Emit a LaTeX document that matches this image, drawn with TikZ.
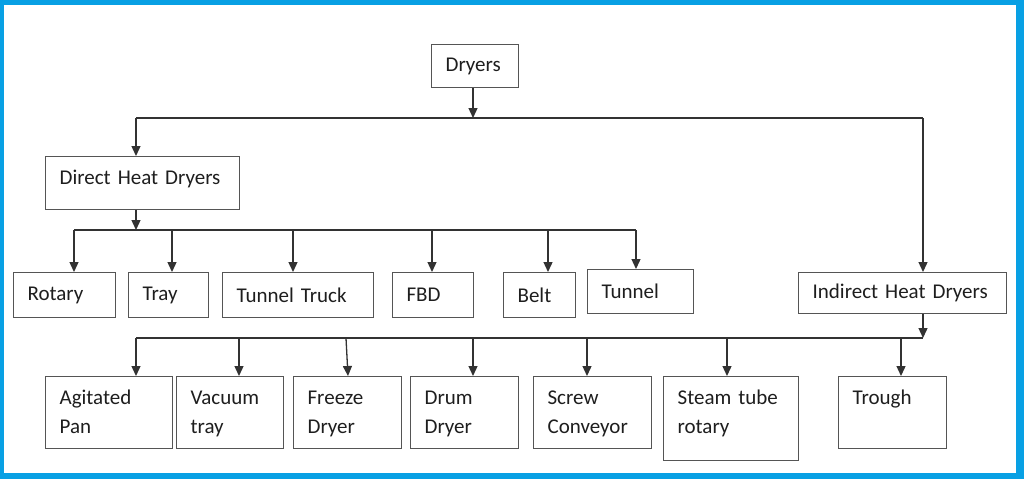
\documentclass[tikz,border=0pt]{standalone}
\usepackage{fontspec}
\setmainfont{Carlito}
\usetikzlibrary{arrows.meta}
\definecolor{frameblue}{RGB}{8,160,228}
\definecolor{ln}{RGB}{50,50,50}
\definecolor{bd}{RGB}{85,85,85}
\definecolor{tx}{RGB}{30,30,30}
\begin{document}
\begin{tikzpicture}[x=1pt,y=-1pt,
  box/.style={draw=bd,line width=1.2pt,anchor=north west,inner xsep=14pt,inner ysep=0pt,
    align=left,font=\fontsize{21}{29}\selectfont,text=tx},
  tall/.style={box,text height=15pt,text depth=31pt},
  arr/.style={draw=ln,line width=1.3pt,-{Triangle[width=9pt,length=10pt]}},
  ln/.style={draw=ln,line width=1.3pt}]
\useasboundingbox (0,0) rectangle (1024,479);
\fill[frameblue] (0,0) rectangle (1024,479);
\fill[white] (4,5) rectangle (1016,473);

% nodes
\node[box,minimum width=87,text width=59,minimum height=43] (dryers) at (431,44) {Dryers};
\node[box,minimum width=194,text width=166,minimum height=53,text height=15pt,text depth=12pt] (direct) at (45,156) {Direct Heat Dryers};
\node[box,minimum width=102,text width=74,minimum height=45] (rotary) at (13,272) {Rotary};
\node[box,minimum width=80,text width=52,minimum height=45] (tray) at (128,272) {Tray};
\node[box,minimum width=151,text width=123,minimum height=45] (ttruck) at (222,272) {Tunnel Truck};
\node[box,minimum width=81,text width=53,minimum height=45] (fbd) at (392,272) {FBD};
\node[box,minimum width=72,text width=44,minimum height=45] (belt) at (503,272) {Belt};
\node[box,minimum width=106,text width=78,minimum height=44] (tunnel) at (587,269) {Tunnel};
\node[box,minimum width=208,text width=180,minimum height=41] (indirect) at (798,272) {Indirect Heat Dryers};
\node[tall,minimum width=127,text width=99,minimum height=72] (agit) at (45,376) {Agitated\\Pan};
\node[tall,minimum width=107,text width=79,minimum height=72] (vac) at (176,376) {Vacuum\\tray};
\node[tall,minimum width=108,text width=80,minimum height=72] (freeze) at (293,376) {Freeze\\Dryer};
\node[tall,minimum width=108,text width=80,minimum height=72] (drum) at (410,376) {Drum\\Dryer};
\node[tall,minimum width=118,text width=90,minimum height=72] (screw) at (533,376) {Screw\\Conveyor};
\node[tall,minimum width=135,text width=107,minimum height=84,text depth=43pt] (steam) at (663,376) {Steam tube\\rotary};
\node[tall,minimum width=108,text width=80,minimum height=72] (trough) at (838,376) {Trough};

% junction coordinates
\coordinate (j1) at (473,118);
\coordinate (jL) at (136,118);
\coordinate (jR) at (923,118);
\coordinate (j2) at (136,230);
\coordinate (d1) at (74,230);
\coordinate (d2) at (172,230);
\coordinate (d3) at (293,230);
\coordinate (d4) at (432,230);
\coordinate (d5) at (548,230);
\coordinate (d6) at (636,230);
\coordinate (j3) at (923,338);
\coordinate (i1) at (136,338);
\coordinate (i2) at (239,338);
\coordinate (i3) at (346,338);
\coordinate (i3b) at (348,376);
\coordinate (i4) at (473,338);
\coordinate (i5) at (587,338);
\coordinate (i6) at (727,338);
\coordinate (i7) at (901,338);

% connectors
\draw[arr] (dryers.south -| j1) -- (j1);
\draw[ln] (jL) -- (jR);
\draw[arr] (jL) -- (jL |- direct.north);
\draw[arr] (jR) -- (jR |- indirect.north);

\draw[arr] (direct.south -| j2) -- (j2);
\draw[ln] (d1) -- (d6);
\draw[arr] (d1) -- (d1 |- rotary.north);
\draw[arr] (d2) -- (d2 |- tray.north);
\draw[arr] (d3) -- (d3 |- ttruck.north);
\draw[arr] (d4) -- (d4 |- fbd.north);
\draw[arr] (d5) -- (d5 |- belt.north);
\draw[arr] (d6) -- (d6 |- tunnel.north);

\draw[arr] (indirect.south -| j3) -- (j3);
\draw[ln] (i1) -- (j3);
\draw[arr] (i1) -- (i1 |- agit.north);
\draw[arr] (i2) -- (i2 |- vac.north);
\draw[arr] (i3) -- (i3b);
\draw[arr] (i4) -- (i4 |- drum.north);
\draw[arr] (i5) -- (i5 |- screw.north);
\draw[arr] (i6) -- (i6 |- steam.north);
\draw[arr] (i7) -- (i7 |- trough.north);
\end{tikzpicture}
\end{document}
